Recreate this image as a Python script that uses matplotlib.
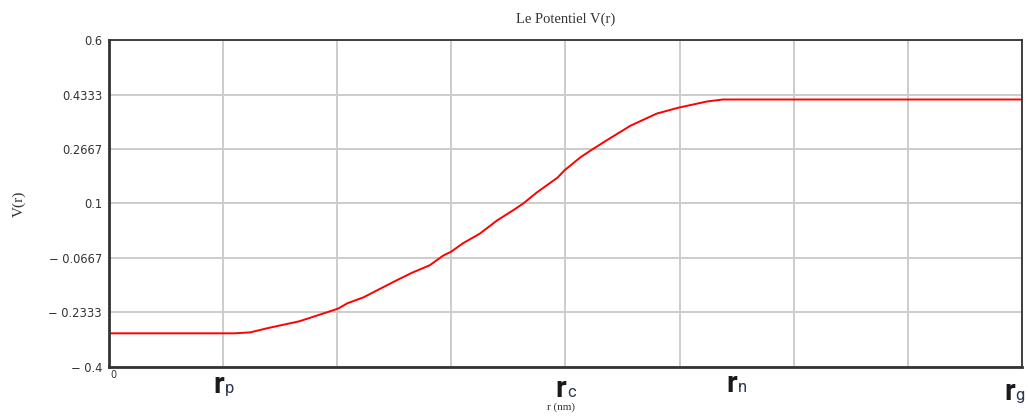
import matplotlib.pyplot as plt
import matplotlib.transforms as mtransforms

# potentiel V(r) le long de r (nm)
r = [0.0, 1.10, 1.24, 1.38, 1.67, 1.96, 2.01, 2.09, 2.23, 2.38, 2.52, 2.66,
     2.81, 2.93, 3.00, 3.10, 3.25, 3.40, 3.54, 3.63, 3.75, 3.93, 3.99, 4.13,
     4.22, 4.36, 4.57, 4.80, 4.99, 5.24, 5.38, 8.0]
V = [-0.297, -0.297, -0.294, -0.282, -0.260, -0.227, -0.221, -0.205, -0.187,
     -0.160, -0.135, -0.111, -0.089, -0.059, -0.047, -0.022, 0.008, 0.048,
     0.079, 0.100, 0.134, 0.179, 0.201, 0.241, 0.262, 0.293, 0.338, 0.375,
     0.393, 0.412, 0.418, 0.418]

yticks = [-0.4, -0.2333, -0.0667, 0.1, 0.2667, 0.4333, 0.6]
ylabels = ["\u2212 0.4", "\u2212 0.2333", "\u2212 0.0667", "0.1", "0.2667", "0.4333", "0.6"]

# rayons marqués sous l'axe
rayons = [1.0, 4.0, 5.5, 7.93]
indices = ["p", "c", "n", "g"]
decal = [-19, -21.5, -18, -23.5]   # ligne de base du texte, en points sous l'axe

fig = plt.figure(figsize=(10.29, 4.17), dpi=100)
ax = fig.add_axes([0.1059, 0.1199, 0.8873, 0.7842])

ax.plot(r, V, color="#ff0000", linewidth=1.4)

ax.set_xlim(0, 8)
ax.set_ylim(-0.4, 0.6)
ax.set_xticks(range(9))
ax.set_xticklabels([""] * 9)
ax.set_yticks(yticks)
ax.set_yticklabels(ylabels, fontsize=8.3, color="#333333")
ax.tick_params(length=0, pad=5)
ax.grid(True, color="#cccccc", linewidth=1.4)
ax.set_axisbelow(True)

for side in ["left", "bottom"]:
    ax.spines[side].set_linewidth(2)
    ax.spines[side].set_color("#333333")
for side in ["top", "right"]:
    ax.spines[side].set_linewidth(1.3)
    ax.spines[side].set_color("#333333")

ax.text(0.002, -0.008, "0", transform=ax.transAxes, fontsize=7,
        color="#333333", ha="left", va="top")

trans = mtransforms.blended_transform_factory(ax.transData, ax.transAxes)
for x, s, d in zip(rayons, indices, decal):
    ax.annotate("r", xy=(x, 0), xycoords=trans, xytext=(0.5, d),
                textcoords="offset points", ha="right", va="baseline",
                fontsize=21, fontweight="bold", family="Roboto", color="#1a1a1a")
    ax.annotate(s, xy=(x, 0), xycoords=trans, xytext=(1, d),
                textcoords="offset points", ha="left", va="baseline",
                fontsize=12, family="Roboto", color="#2a3550")

ax.set_title("Le Potentiel V(r)", fontsize=10.5, family="Liberation Serif",
             color="#333333", pad=12)
ax.text(3.96, -0.108, "r (nm)", transform=trans, fontsize=8,
        family="Liberation Serif", color="#333333", ha="center", va="top")
ax.set_ylabel("V(r)", fontsize=11, family="Liberation Serif", color="#333333",
              labelpad=16)

fig.savefig("out.png", dpi=100)
